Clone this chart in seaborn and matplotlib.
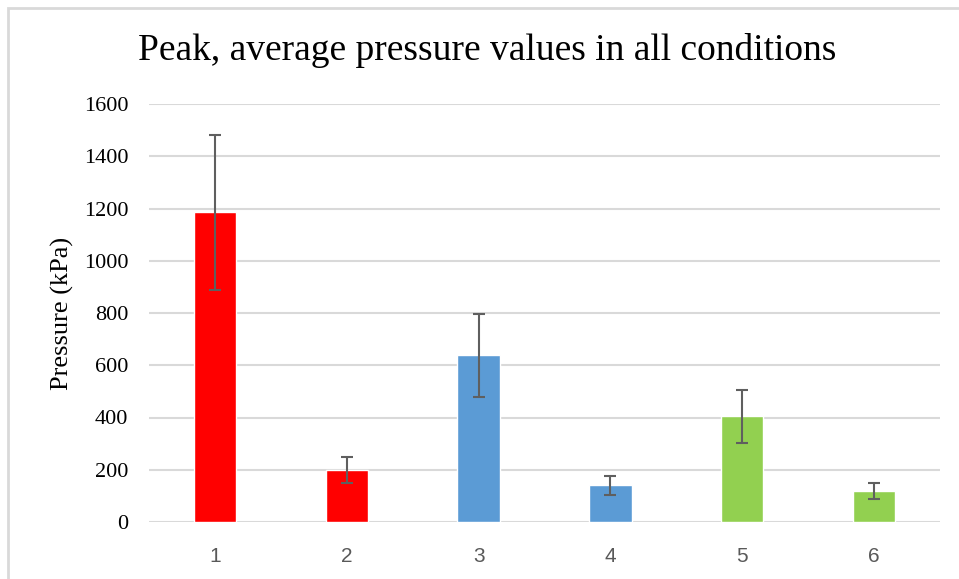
import matplotlib
matplotlib.use("Agg")
import matplotlib.pyplot as plt
import matplotlib.patches as mpatches
import pandas as pd
import seaborn as sns

# values
conditions = ["1", "2", "3", "4", "5", "6"]
pressure = [1185, 200, 638, 140, 404, 120]
pressure_err = [297, 50, 159, 35, 101, 31]
bar_colors = ["#ff0000", "#ff0000", "#5b9bd5", "#5b9bd5", "#92d050", "#92d050"]

df = pd.DataFrame({"condition": conditions, "pressure": pressure, "err": pressure_err})

sns.set_style("white")
plt.rcParams["font.family"] = ["Liberation Serif", "DejaVu Serif"]
plt.rcParams["text.color"] = "black"
plt.rcParams["axes.labelcolor"] = "black"

fig = plt.figure(figsize=(9.59, 5.79), dpi=100)
ax = fig.add_axes([149 / 959, 1 - 522 / 579, (940 - 149) / 959, (522 - 104) / 579])

sns.barplot(
    data=df,
    x="condition",
    y="pressure",
    hue="condition",
    palette=dict(zip(conditions, bar_colors)),
    order=conditions,
    width=0.32,
    errorbar=None,
    legend=False,
    saturation=1,
    ax=ax,
    zorder=2,
)

# error bars centred on the drawn bars
xs = [p.get_x() + p.get_width() / 2 for p in ax.patches]
ax.errorbar(
    xs,
    df["pressure"],
    yerr=df["err"],
    fmt="none",
    ecolor="#5f5f5f",
    elinewidth=1.5,
    capsize=4.5,
    capthick=1.5,
    zorder=3,
)

ax.set_ylim(0, 1600)
ax.set_xlim(-0.5, 5.5)
ax.set_yticks(range(0, 1601, 200))
ax.yaxis.grid(True, color="#d9d9d9", linewidth=1.5, zorder=0)
ax.set_axisbelow(True)
for side in ["top", "right", "left", "bottom"]:
    ax.spines[side].set_visible(False)
ax.tick_params(axis="both", length=0)
ax.tick_params(axis="y", labelsize=16, pad=15, labelcolor="black")
ax.tick_params(axis="x", pad=18)
for lbl in ax.get_xticklabels():
    lbl.set_fontfamily(["Liberation Sans", "DejaVu Sans"])
    lbl.set_fontsize(15)
    lbl.set_color("#595959")

ax.set_xlabel("")
ax.set_ylabel("Pressure (kPa)", fontsize=19, labelpad=7, color="black")
fig.suptitle("Peak, average pressure values in all conditions",
             x=487 / 959, y=1 - 51 / 579, va="center", fontsize=27, color="black")

# light chart-area border (top and left edges visible)
fig.add_artist(mpatches.Rectangle((8 / 959, -0.1), 1.2, 1 - 8 / 579 + 0.1,
                                  transform=fig.transFigure, fill=False,
                                  edgecolor="#d9d9d9", linewidth=2))

fig.savefig("out.png", dpi=100)
plt.close(fig)
